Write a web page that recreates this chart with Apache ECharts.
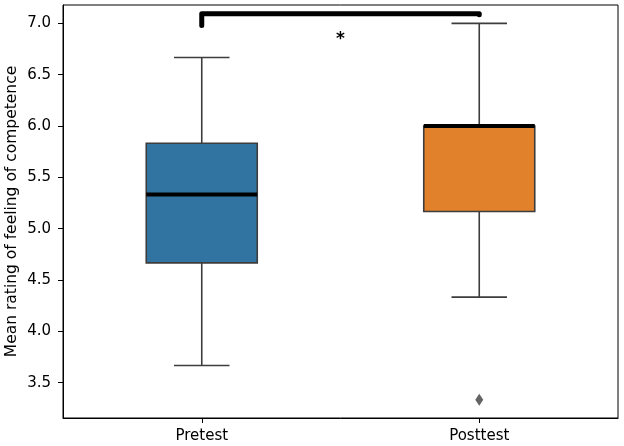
<!DOCTYPE html>
<html><head><meta charset="utf-8">
<script src="https://cdn.jsdelivr.net/npm/echarts@6/dist/echarts.min.js"></script>
<style>html,body{margin:0;padding:0;background:#fff}#c{width:624px;height:446px}</style>
</head><body><div id="c"></div>
<script>
const categories = ['Pretest', 'Posttest'];
// [whiskerLow, Q1, median, Q3, whiskerHigh]
const pretest = [3.667, 4.667, 5.333, 5.833, 6.667];
const posttest = [4.333, 5.167, 6.0, 6.0, 7.0];
const outliers = [[1, 3.333]];
const yTicks = [3.5, 4.0, 4.5, 5.0, 5.5, 6.0, 6.5, 7.0];
const bracket = [[0, 6.98], [0, 7.094], [1, 7.094], [1, 7.085]];
const annotation = [[0.5, 6.84]];
const annotationText = ['*'];
const boxColors = ['#3274a1', '#e1812c'];

const EDGE = '#3d3d3d';
const FONT = 'DejaVu Sans';

function renderBox(params, api) {
  const x = api.value(0);
  const low = api.coord([x, api.value(1)]);
  const q1 = api.coord([x, api.value(2)]);
  const med = api.coord([x, api.value(3)]);
  const q3 = api.coord([x, api.value(4)]);
  const high = api.coord([x, api.value(5)]);
  const bw = api.size([0.4, 0])[0];
  const cw = bw / 2;
  const cx = low[0];
  const lineStyle = {stroke: EDGE, lineWidth: 1.6};
  return {
    type: 'group',
    children: [
      {type: 'line', shape: {x1: cx, y1: low[1], x2: cx, y2: q1[1]}, style: lineStyle},
      {type: 'line', shape: {x1: cx, y1: q3[1], x2: cx, y2: high[1]}, style: lineStyle},
      {type: 'line', shape: {x1: cx - cw / 2, y1: low[1], x2: cx + cw / 2, y2: low[1]}, style: lineStyle},
      {type: 'line', shape: {x1: cx - cw / 2, y1: high[1], x2: cx + cw / 2, y2: high[1]}, style: lineStyle},
      {type: 'rect', shape: {x: cx - bw / 2, y: q3[1], width: bw, height: q1[1] - q3[1]},
        style: {fill: api.visual('color'), stroke: EDGE, lineWidth: 1.6}},
      {type: 'line', shape: {x1: cx - bw / 2, y1: med[1], x2: cx + bw / 2, y2: med[1]},
        style: {stroke: '#000', lineWidth: 4}}
    ]
  };
}

function renderText(params, api) {
  const p = api.coord([api.value(0), api.value(1)]);
  return {
    type: 'text', x: p[0], y: p[1],
    style: {text: annotationText[params.dataIndex], fontSize: 17, fontWeight: 'bold', fill: '#000',
      align: 'center', verticalAlign: 'middle', fontFamily: FONT}
  };
}

const chart = echarts.init(document.getElementById('c'), null, {renderer: 'canvas'});
chart.setOption({
  animation: false,
  backgroundColor: '#fff',
  grid: {left: 63, right: 6, top: 5, bottom: 28, show: true, borderColor: '#000', borderWidth: 1,
    containLabel: false, outerBoundsMode: 'none'},
  xAxis: [
    {
      type: 'category', data: categories, gridIndex: 0,
      axisLine: {show: true, onZero: false, lineStyle: {color: '#000', width: 1}},
      axisTick: {show: true, alignWithLabel: true, length: 5, lineStyle: {color: '#000'}},
      axisLabel: {fontSize: 15, color: '#000', fontFamily: FONT, margin: 11},
      splitLine: {show: false}
    },
    {type: 'value', min: -0.5, max: 1.5, show: false, gridIndex: 0, splitLine: {show: false}}
  ],
  yAxis: {
    type: 'value', min: 3.156, max: 7.179,
    name: 'Mean rating of feeling of competence', nameLocation: 'middle', nameGap: 43, nameRotate: 90,
    nameMoveOverlap: false,
    nameTextStyle: {fontSize: 15.5, color: '#000', fontFamily: FONT},
    axisLine: {show: true, onZero: false, lineStyle: {color: '#000', width: 1}},
    axisTick: {show: true, length: 5, customValues: yTicks, lineStyle: {color: '#000'}},
    axisLabel: {customValues: yTicks, fontSize: 15, color: '#000', fontFamily: FONT, margin: 12,
      formatter: v => Number(v).toFixed(1)},
    splitLine: {show: false}
  },
  series: [
    {
      type: 'custom', xAxisIndex: 1, yAxisIndex: 0, renderItem: renderBox,
      data: [
        {value: [0].concat(pretest), itemStyle: {color: boxColors[0]}},
        {value: [1].concat(posttest), itemStyle: {color: boxColors[1]}}
      ],
      z: 2
    },
    {
      type: 'scatter', xAxisIndex: 1, yAxisIndex: 0, data: outliers,
      symbol: 'diamond', symbolSize: [8, 12], itemStyle: {color: EDGE}, z: 3
    },
    {
      type: 'line', xAxisIndex: 1, yAxisIndex: 0, data: bracket, symbol: 'none',
      lineStyle: {color: '#000', width: 5, cap: 'round', join: 'round'}, z: 4
    },
    {
      type: 'custom', xAxisIndex: 1, yAxisIndex: 0, renderItem: renderText, data: annotation, z: 5
    }
  ]
});
</script>
</body></html>
